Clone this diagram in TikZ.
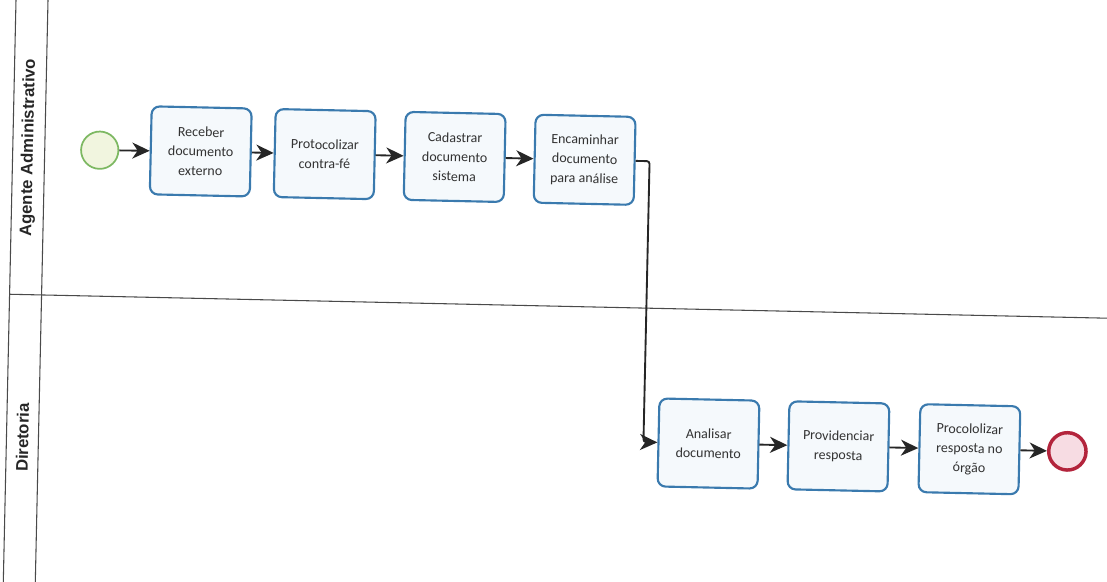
\documentclass[tikz,border=0pt]{standalone}
\usepackage{fontspec}
\setmainfont{Carlito}
\newfontfamily\lanefont{Liberation Sans}
\usetikzlibrary{arrows.meta}

\definecolor{taskborder}{HTML}{3A7AAE}
\definecolor{taskfill}{HTML}{F5F9FC}
\definecolor{startborder}{HTML}{7DB862}
\definecolor{startfill}{HTML}{F1F5DF}
\definecolor{endborder}{HTML}{B3243C}
\definecolor{endfill}{HTML}{F7DCE3}
\definecolor{laneline}{HTML}{4A4A4A}
\definecolor{textgray}{HTML}{333333}

\begin{document}
\begin{tikzpicture}[x=0.75pt,y=-0.75pt,
  task/.style={draw=taskborder, line width=1.6pt, fill=taskfill, rounded corners=6pt,
    minimum width=75pt, minimum height=66pt, align=center,
    font=\fontsize{10.5}{14.5}\selectfont, text=textgray},
  startev/.style={circle, draw=startborder, line width=1.3pt, fill=startfill,
    minimum size=28pt, inner sep=0pt},
  endev/.style={circle, draw=endborder, line width=2.6pt, fill=endfill,
    minimum size=28pt, inner sep=0pt},
  flow/.style={draw=black!85, line width=1.4pt, rounded corners=2pt,
    -{Stealth[length=13pt,width=12pt,inset=4pt]}},
  lane/.style={draw=laneline, line width=0.8pt},
  lanelabel/.style={rotate=90, text=black!85,
    font=\lanefont\bfseries\fontsize{12.5}{14}\selectfont}
]
\useasboundingbox (0,0) rectangle (1107,582);
\clip (0,0) rectangle (1107,582);

\begin{scope}[rotate=-1.25, transform shape]
  % pool frame and lane separator
  \coordinate (ltop) at (16,-40);
  \coordinate (lbot) at (16,640);
  \coordinate (htop) at (48,-40);
  \coordinate (hbot) at (48,640);
  \coordinate (sepl) at (16,294);
  \coordinate (sepr) at (1200,294);
  \draw[lane] (ltop) -- (lbot);
  \draw[lane] (htop) -- (hbot);
  \draw[lane] (sepl) -- (sepr);

  % lane headers
  \node[lanelabel] (laneA) at (32,147) {Agente Administrativo};
  \node[lanelabel] (laneD) at (32,437) {Diretoria};

  % upper lane
  \node[startev] (start) at (103,148) {};
  \node[task] (t1) at (204,147) {Receber\\documento\\externo};
  \node[task] (t2) at (328,147) {Protocolizar\\contra-fé};
  \node[task] (t3) at (458,147) {Cadastrar\\documento\\sistema};
  \node[task] (t4) at (588,147) {Encaminhar\\documento\\para análise};

  % lower lane
  \node[task] (t5) at (718,428) {Analisar\\documento};
  \node[task] (t6) at (848,428) {Providenciar\\resposta};
  \node[task] (t7) at (979,428) {Procololizar\\resposta no\\órgão};
  \node[endev] (stop) at (1077,428) {};

  % sequence flows
  \draw[flow] (start) -- (t1);
  \draw[flow] (t1) -- (t2);
  \draw[flow] (t2) -- (t3);
  \draw[flow] (t3) -- (t4);
  \coordinate (bend) at (653,147);
  \draw[flow] (t4.east) -- (bend) |- (t5.west);
  \draw[flow] (t5) -- (t6);
  \draw[flow] (t6) -- (t7);
  \draw[flow] (t7) -- (stop);
\end{scope}
\end{tikzpicture}
\end{document}
